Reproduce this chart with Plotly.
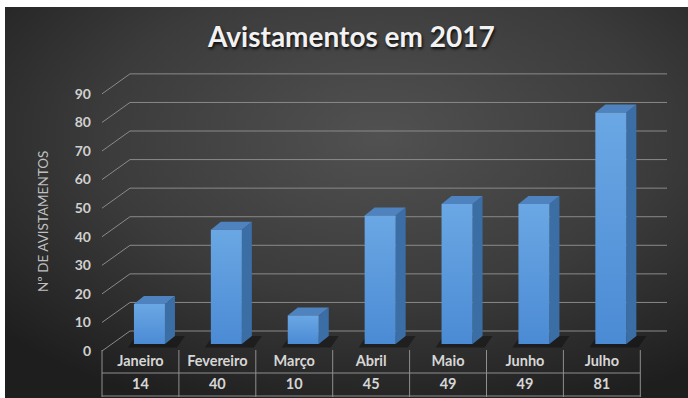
import base64
import plotly.graph_objects as go

# ---- data ----
months = ["Janeiro", "Fevereiro", "Março", "Abril", "Maio", "Junho", "Julho"]
values = [14, 40, 10, 45, 49, 49, 81]
yticks = [0, 10, 20, 30, 40, 50, 60, 70, 80, 90]
title_text = "Avistamentos em 2017"
ytitle_text = "Nº DE AVISTAMENTOS"

# ---- geometry (px -> data units) ----
W, H = 688, 398
ML, MT = 95, 60
PW, PH = W - ML, H - MT
CW = 76.9          # px per category
S = 2.857          # px per value unit
X0PX = 102         # left edge of first category (px)
Y0PX = 351         # value 0 on front plane (px)
FX, FY = 9 / CW, 7 / S      # bar front offset from front plane
DX, DY = 10 / CW, 8 / S     # bar depth
BX, BY = 28 / CW, 20 / S    # back wall offset
BW = 31 / CW                # bar width
XEND = (667 - X0PX) / CW - 0.5

xr = [(ML - X0PX) / CW - 0.5, (W - X0PX) / CW - 0.5]
yr = [(Y0PX - H) / S, (Y0PX - MT) / S]


def dom_x(px):
    return (px - ML) / PW


def dom_y(py):
    return (H - py) / PH


def vy(py):  # pixel row -> value units
    return (Y0PX - py) / S


fig = go.Figure()

# gridlines with 3D diagonals
gx, gy = [], []
for v in yticks:
    gx += [-0.5, -0.5 + BX, XEND, None]
    gy += [v, v + BY, v + BY, None]
fig.add_trace(go.Scatter(x=gx, y=gy, mode="lines",
                         line=dict(color="#8a8a8a", width=1),
                         hoverinfo="skip", showlegend=False))

# shadows
sx, sy = [], []
for i, v in enumerate(values):
    l = i + FX - BW / 2
    r = i + FX + BW / 2
    sx += [l - 6 / CW, r + 12 / CW, r + 20 / CW, l + 2 / CW, l - 6 / CW, None]
    sy += [FY - 1.2, FY - 1.2, FY + DY, FY + DY, FY - 1.2, None]
fig.add_trace(go.Scatter(x=sx, y=sy, mode="lines", fill="toself",
                         fillcolor="rgba(10,10,10,0.45)", line=dict(width=0),
                         hoverinfo="skip", showlegend=False))

# side faces
px_, py_ = [], []
for i, v in enumerate(values):
    r = i + FX + BW / 2
    px_ += [r, r + DX, r + DX, r, r, None]
    py_ += [FY, FY + DY, FY + v + DY, FY + v, FY, None]
fig.add_trace(go.Scatter(x=px_, y=py_, mode="lines", fill="toself",
                         fillcolor="#3c6ea6", line=dict(width=0),
                         hoverinfo="skip", showlegend=False))

# top faces
tx, ty = [], []
for i, v in enumerate(values):
    l = i + FX - BW / 2
    r = i + FX + BW / 2
    tx += [l, l + DX, r + DX, r, l, None]
    ty += [FY + v, FY + v + DY, FY + v + DY, FY + v, FY + v, None]
fig.add_trace(go.Scatter(x=tx, y=ty, mode="lines", fill="toself",
                         fillcolor="#4f83bf", line=dict(width=0),
                         hoverinfo="skip", showlegend=False))

# front faces
for i, v in enumerate(values):
    l = i + FX - BW / 2
    r = i + FX + BW / 2
    fig.add_trace(go.Scatter(x=[l, r, r, l, l], y=[FY, FY, FY + v, FY + v, FY],
                             mode="lines", fill="toself",
                             fillgradient=dict(type="vertical",
                                               colorscale=[[0, "#4b8bd4"], [1, "#6aa7e4"]]),
                             line=dict(width=0), hoverinfo="skip", showlegend=False))

# data table: borders
n = len(months)
lx, ly = [], []
for k in range(n + 1):
    lx += [k - 0.5, k - 0.5, None]
    ly += [vy(350), vy(397), None]
for row_py in (373, 396):
    lx += [-0.5, n - 0.5, None]
    ly += [vy(row_py), vy(row_py), None]
fig.add_trace(go.Scatter(x=lx, y=ly, mode="lines",
                         line=dict(color="#8f8f8f", width=1),
                         hoverinfo="skip", showlegend=False))

# data table: texts
cats = list(range(n))
tfont = dict(family="Lato", size=14.5, color="#d6d6d6", weight="bold")
fig.add_trace(go.Scatter(x=cats, y=[vy(362)] * n, mode="text", text=months,
                         textposition="middle center", textfont=tfont,
                         hoverinfo="skip", showlegend=False))
fig.add_trace(go.Scatter(x=cats, y=[vy(385)] * n, mode="text", text=[str(v) for v in values],
                         textposition="middle center", textfont=tfont,
                         hoverinfo="skip", showlegend=False))

# background gradient
svg = f'''<svg xmlns="http://www.w3.org/2000/svg" width="{W}" height="{H}" viewBox="0 0 {W} {H}" preserveAspectRatio="none">
<defs><radialGradient id="g" cx="0.55" cy="0.33" r="0.75">
<stop offset="0" stop-color="#515151"/><stop offset="0.55" stop-color="#3b3b3b"/><stop offset="1" stop-color="#1e1e1e"/>
</radialGradient></defs>
<rect width="{W}" height="{H}" fill="#ffffff"/>
<rect x="5" y="7" width="{W-5}" height="{H-7}" fill="url(#g)"/>
</svg>'''
src = "data:image/svg+xml;base64," + base64.b64encode(svg.encode()).decode()

fig.update_layout(
    width=W, height=H,
    margin=dict(l=ML, r=0, t=MT, b=0),
    paper_bgcolor="#333333", plot_bgcolor="rgba(0,0,0,0)",
    images=[dict(source=src, xref="paper", yref="paper", x=-ML / PW, y=1 + MT / PH,
                 sizex=W / PW, sizey=H / PH, sizing="stretch",
                 xanchor="left", yanchor="top", layer="below")],
    xaxis=dict(range=xr, visible=False, fixedrange=True),
    yaxis=dict(range=yr, tickvals=yticks, ticktext=[f"<b>{t}</b>" for t in yticks],
               showgrid=False, zeroline=False, showline=False, ticks="",
               tickfont=dict(family="Lato", size=14, color="#d0d0d0"),
               ticklabelstandoff=3, fixedrange=True),
    showlegend=False,
    annotations=[
        dict(text=f"<b>{title_text}</b>", xref="paper", yref="paper",
             x=dom_x(351), y=dom_y(36),
             xanchor="center", yanchor="middle", showarrow=False,
             font=dict(family="Lato", size=28, color="#f2f2f2",
                       shadow="1px 2px 3px rgba(0,0,0,0.85)")),
        dict(text=ytitle_text, xref="paper", yref="paper",
             x=dom_x(43), y=dom_y(222),
             xanchor="center", yanchor="middle", showarrow=False, textangle=-90,
             font=dict(family="Lato", size=13.5, color="#bfbfbf")),
    ],
)

fig.write_html("out.html")
